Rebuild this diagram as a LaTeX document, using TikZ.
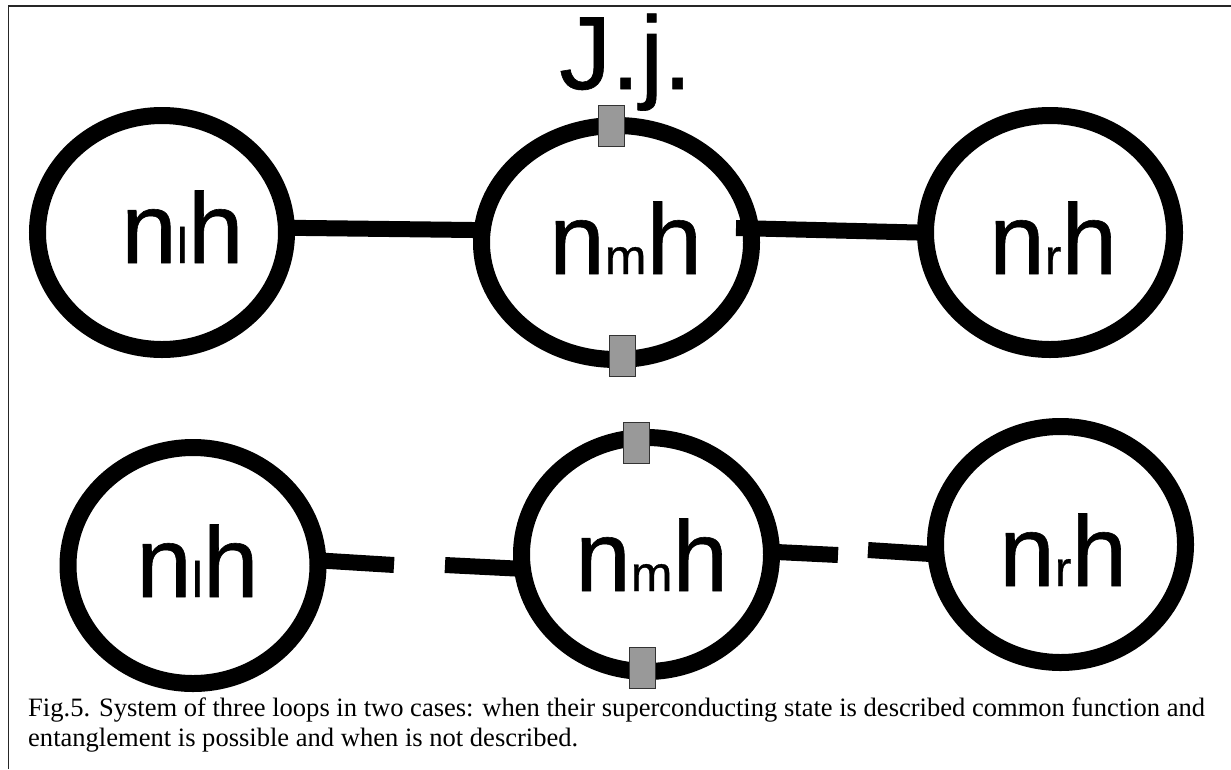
\documentclass[tikz,border=0pt]{standalone}
\usepackage{fontspec}
\setmainfont{Liberation Serif}
\newfontfamily\labelfont[FakeBold=0.6]{Liberation Sans}
\usetikzlibrary{shapes.geometric}
\newcommand{\subidx}[1]{{\fontsize{50}{50}\selectfont #1}}
\tikzset{
  ring/.style={draw=black, line width=17pt, ellipse, inner sep=0pt, fill=none},
  wire/.style={draw=black, line width=16pt},
  junction/.style={draw=black!80, fill=black!40, line width=1pt, minimum width=26pt, minimum height=41pt, inner sep=0pt, outer sep=0pt},
  flux/.style={font=\labelfont\fontsize{100}{100}\selectfont, anchor=base west, inner sep=0pt}
}

\begin{document}
\begin{tikzpicture}[x=1pt, y=-1pt]
\useasboundingbox (0,0) rectangle (1231,769);

% Frame
\draw[line width=1.6pt, black!85] (8.3,769) -- (8.3,5.8) -- (1231,5.8);

% Upper row
\node[ring, minimum width=249pt, minimum height=234pt] (ringTL) at (162,232.5) {};
\node[ring, minimum width=270pt, minimum height=234pt] (ringTM) at (616.5,242.5) {};
\node[ring, minimum width=249pt, minimum height=234pt] (ringTR) at (1050,232.5) {};

% Lower row
\node[ring, minimum width=250pt, minimum height=236pt] (ringBL) at (193,565.5) {};
\node[ring, minimum width=250pt, minimum height=234pt] (ringBM) at (646.5,554.5) {};
\node[ring, minimum width=250pt, minimum height=236pt] (ringBR) at (1060.5,544.5) {};

% Free ends
\coordinate (stubTM) at (736,228);
\coordinate (gapLa) at (394,565);
\coordinate (gapLb) at (445,565);
\coordinate (gapRa) at (838,555);
\coordinate (gapRb) at (868,550);

% Connectors
\draw[wire, shorten <=-3pt, shorten >=-3pt] (ringTL.2) -- (ringTM.175.6);
\draw[wire, shorten >=-3pt] (stubTM) -- (ringTR.west);
\draw[wire, shorten <=-3pt] (ringBL.2) -- (gapLa);
\draw[wire, shorten >=-3pt] (gapLb) -- (ringBM.186.6);
\draw[wire, shorten <=-3pt] (ringBM.1.5) -- (gapRa);
\draw[wire, shorten >=-3pt] (gapRb) -- (ringBR.184.2);

% Junctions
\node[junction] (jjTa) at (611,125.5) {};
\node[junction] (jjTb) at (622,355.5) {};
\node[junction] (jjBa) at (636.5,442.5) {};
\node[junction] (jjBb) at (642,667.5) {};

% Labels
\node[font=\labelfont\fontsize{104}{104}\selectfont, anchor=base west, inner sep=0pt] (jjlabel) at (559,89) {J.j.};
\node[flux] (fluxTL) at (121,263) {n\subidx{l}h};
\node[flux] (fluxTM) at (549,274) {n\subidx{m}h};
\node[flux] (fluxTR) at (989,274) {n\subidx{r}h};
\node[flux] (fluxBL) at (136,597) {n\subidx{l}h};
\node[flux] (fluxBM) at (575,591) {n\subidx{m}h};
\node[flux] (fluxBR) at (999,586) {n\subidx{r}h};

% Caption
\node[font=\fontsize{26.55}{30}\selectfont, align=left, anchor=north west, inner sep=0pt] (caption) at (28,698) {Fig.5. System of three loops in two cases: when their superconducting state is described common function and\\entanglement is possible and when is not described.};

\end{tikzpicture}
\end{document}
